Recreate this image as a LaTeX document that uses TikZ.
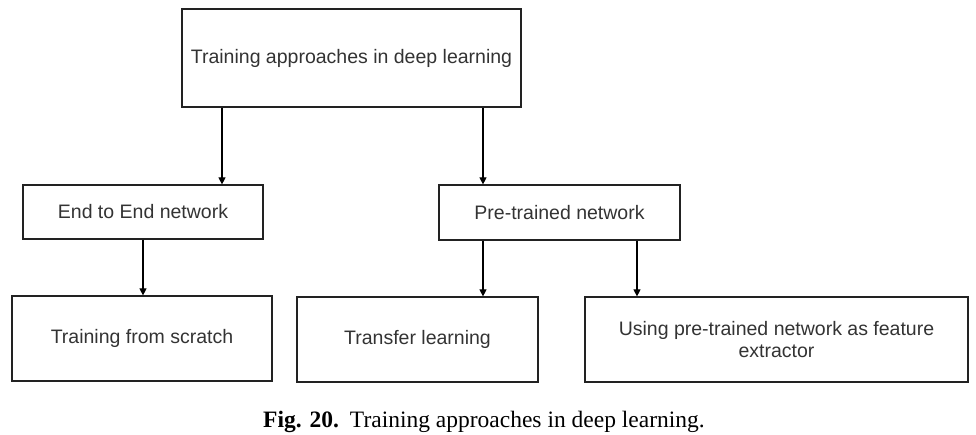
\documentclass[tikz,border=0pt]{standalone}
\usepackage{fontspec}
\setmainfont{Liberation Serif}
\newfontfamily\boxfont{Liberation Sans}
\usetikzlibrary{arrows.meta}
\definecolor{txt}{HTML}{333333}
\definecolor{edge}{HTML}{222222}
\tikzset{
  box/.style={draw=edge, line width=1.2pt, inner sep=0pt, align=center,
    font=\boxfont\fontsize{19.5}{24}\selectfont, text=txt},
  conn/.style={draw=black, line width=1.1pt, -{Triangle[length=7pt,width=7pt]}},
}
\begin{document}
\begin{tikzpicture}[x=1pt,y=-1pt]
\useasboundingbox (0,0) rectangle (976,434);
\node[box, minimum width=339pt, minimum height=98pt] (root) at (351.5,58) {Training approaches in deep learning};
\node[box, minimum width=240pt, minimum height=54pt] (e2e) at (143,212) {End to End network};
\node[box, minimum width=241pt, minimum height=55pt] (pre) at (559.5,212.5) {Pre-trained network};
\node[box, minimum width=260pt, minimum height=85pt] (scr) at (142,338.5) {Training from scratch};
\node[box, minimum width=241pt, minimum height=85pt] (tl) at (417.5,339.5) {Transfer learning};
\node[box, minimum width=383pt, minimum height=85pt] (fe) at (776.5,339.5) {Using pre-trained network as feature\\[-2pt]extractor};
\draw[conn] (root.south -| 222,0) -- (e2e.north -| 222,0);
\draw[conn] (root.south -| 483,0) -- (pre.north -| 483,0);
\draw[conn] (e2e.south -| 143,0) -- (scr.north -| 143,0);
\draw[conn] (pre.south -| 483,0) -- (tl.north -| 483,0);
\draw[conn] (pre.south -| 637,0) -- (fe.north -| 637,0);
\node[font=\fontsize{23.5}{28}\selectfont, inner sep=0pt, anchor=base] (cap) at (484,427) {\textbf{Fig. 20.}\hspace{11pt}Training approaches in deep learning.};
\end{tikzpicture}
\end{document}
